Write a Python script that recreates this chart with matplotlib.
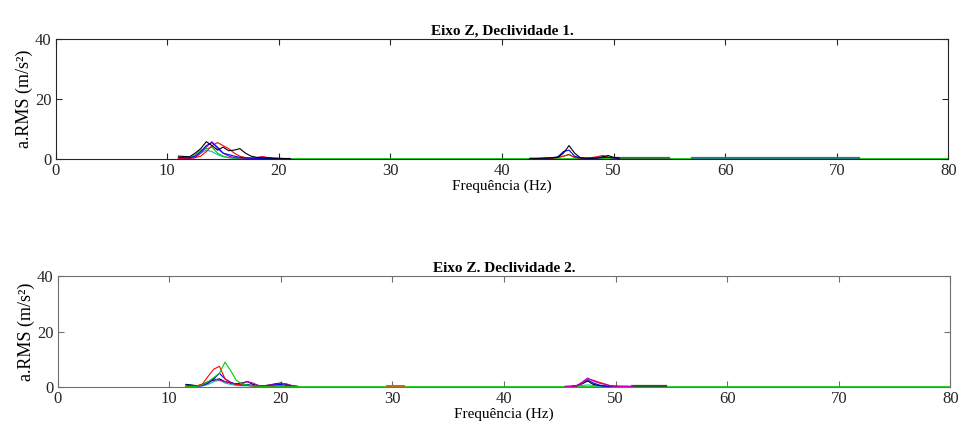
import matplotlib.pyplot as plt

plt.rcParams['font.family'] = ['Liberation Serif', 'DejaVu Serif']

# ---- Declividade 1 ----
fa1 = [11.0, 11.5, 12.0, 12.5, 13.0, 13.5, 14.0, 14.5, 15.0, 15.5, 16.0,
       16.5, 17.0, 17.5, 18.0, 18.5, 19.0, 19.5, 20.0, 20.5, 21.0]
a1_k = [1.0, 0.9, 0.8, 2.0, 3.5, 5.8, 4.5, 3.0, 4.0, 2.8, 3.0, 3.5, 2.0, 1.0, 0.6, 0.5, 0.4, 0.3, 0.3, 0.2, 0.2]
a1_b = [0.6, 0.5, 0.4, 1.0, 2.5, 4.5, 5.5, 4.0, 2.0, 1.5, 1.0, 0.6, 0.4, 0.3, 0.3, 0.2, 0.3, 0.2, 0.2, 0.2, 0.2]
a1_r = [0.3, 0.3, 0.3, 0.5, 1.0, 2.5, 4.5, 5.5, 4.5, 3.5, 2.0, 1.0, 0.5, 0.4, 0.3, 0.8, 0.5, 0.3, 0.2, 0.2, 0.2]
a1_g = [0.3, 0.3, 0.4, 1.5, 3.0, 3.5, 4.0, 2.0, 1.0, 0.5, 0.3, 0.3, 0.2, 0.2, 0.2, 0.2, 0.2, 0.2, 0.2, 0.2, 0.2]
a1_m = [0.2, 0.2, 0.3, 0.5, 2.0, 4.0, 5.8, 3.5, 2.0, 1.0, 0.5, 0.4, 0.3, 0.3, 0.5, 0.8, 0.5, 0.3, 0.2, 0.2, 0.2]
a1_c = [0.2, 0.2, 0.3, 0.8, 2.0, 3.0, 2.5, 1.5, 0.8, 0.5, 0.3, 0.2, 0.2, 0.2, 0.2, 0.2, 0.2, 0.2, 0.2, 0.2, 0.2]

fb1 = [42.5, 43.0, 43.5, 44.0, 44.5, 45.0, 45.5, 46.0, 46.5, 47.0, 47.5,
       48.0, 48.5, 49.0, 49.5, 50.0, 50.5]
b1_k = [0.2, 0.2, 0.3, 0.3, 0.4, 0.6, 2.0, 4.5, 2.0, 0.5, 0.3, 0.3, 0.4, 0.8, 1.2, 0.6, 0.3]
b1_b = [0.3, 0.3, 0.3, 0.4, 0.5, 0.8, 2.5, 3.0, 1.0, 0.4, 0.3, 0.3, 0.3, 0.5, 0.6, 0.4, 0.3]
b1_r = [0.2, 0.2, 0.2, 0.3, 0.3, 0.5, 1.0, 1.5, 0.6, 0.3, 0.3, 0.5, 0.8, 1.2, 0.7, 0.4, 0.2]
b1_g = [0.2, 0.2, 0.2, 0.3, 0.4, 0.6, 1.0, 1.6, 0.5, 0.3, 0.2, 0.3, 0.4, 0.6, 0.4, 0.3, 0.2]

fc1 = [50.0, 52.5, 55.0]
c1_dg = [0.3, 0.3, 0.3]
fd1 = [57.0, 62.0, 67.0, 72.0]
d1_tl = [0.3, 0.3, 0.3, 0.3]
fe1 = [20.0, 40.0, 60.0, 80.0]
e1_g = [0.1, 0.1, 0.1, 0.1]

# ---- Declividade 2 ----
fa2 = [11.5, 12.0, 12.5, 13.0, 13.5, 14.0, 14.5, 15.0, 15.5, 16.0, 16.5,
       17.0, 17.5, 18.0, 18.5, 19.0, 19.5, 20.0, 20.5, 21.0, 21.5]
a2_k = [1.0, 0.8, 0.5, 1.0, 2.0, 2.5, 3.0, 2.0, 1.5, 1.2, 1.5, 2.0, 1.0, 0.6, 0.5, 0.8, 1.2, 1.5, 1.0, 0.5, 0.3]
a2_b = [0.8, 0.5, 0.3, 0.6, 1.5, 3.0, 5.0, 3.0, 1.8, 1.0, 0.8, 1.0, 0.6, 0.4, 0.3, 0.5, 0.8, 1.0, 0.6, 0.3, 0.2]
a2_r = [0.3, 0.3, 0.4, 1.2, 4.0, 6.5, 7.5, 3.0, 1.5, 1.0, 0.8, 0.6, 0.4, 0.3, 0.2, 0.3, 0.4, 0.5, 0.3, 0.2, 0.2]
a2_g = [0.3, 0.3, 0.3, 0.8, 2.0, 3.5, 5.0, 9.0, 6.0, 2.5, 1.2, 0.8, 0.5, 0.3, 0.3, 0.3, 0.3, 0.4, 0.3, 0.2, 0.2]
a2_m = [0.3, 0.3, 0.3, 0.6, 1.5, 3.0, 2.5, 2.0, 1.5, 1.0, 1.2, 2.0, 1.5, 0.6, 0.5, 0.8, 1.0, 1.4, 1.2, 0.6, 0.3]
a2_c = [0.2, 0.2, 0.3, 0.5, 1.0, 2.0, 2.5, 1.5, 1.0, 0.6, 0.5, 0.5, 0.4, 0.3, 0.2, 0.3, 0.3, 0.4, 0.3, 0.2, 0.2]

fb2 = [45.5, 46.0, 46.5, 47.0, 47.5, 48.0, 48.5, 49.0, 49.5, 50.0, 50.5, 51.0, 51.5]
b2_k = [0.2, 0.3, 0.5, 1.2, 2.2, 1.0, 0.6, 0.4, 0.3, 0.3, 0.2, 0.2, 0.2]
b2_b = [0.3, 0.3, 0.6, 1.5, 2.6, 1.5, 0.8, 0.4, 0.3, 0.3, 0.3, 0.2, 0.2]
b2_r = [0.2, 0.2, 0.4, 1.5, 3.0, 2.5, 1.8, 1.2, 0.6, 0.3, 0.2, 0.2, 0.2]
b2_m = [0.2, 0.2, 0.5, 1.8, 3.3, 2.2, 1.5, 1.0, 0.5, 0.3, 0.2, 0.2, 0.2]
b2_c = [0.3, 0.3, 0.4, 0.6, 0.8, 0.6, 0.4, 0.3, 0.3, 0.3, 0.4, 0.5, 0.3]

fc2 = [51.5, 53.0, 54.5]
c2_dg = [0.4, 0.4, 0.4]
fd2 = [29.5, 30.2, 31.0]
d2_or = [0.4, 0.4, 0.4]
fe2 = [21.0, 40.0, 60.0, 80.0]
e2_g = [0.1, 0.1, 0.1, 0.1]

xticks = [0, 10, 20, 30, 40, 50, 60, 70, 80]
yticks = [0, 20, 40]

fig = plt.figure(figsize=(9.6, 4.36), dpi=100)
ax1 = fig.add_axes([0.058, 0.635, 0.930, 0.276])
ax2 = fig.add_axes([0.060, 0.112, 0.930, 0.255])

lw = 0.8
ax1.plot(fe1, e1_g, color='#00cc00', lw=1.2)
ax1.plot(fc1, c1_dg, color='#2e7d32', lw=1.6)
ax1.plot(fd1, d1_tl, color='#1f7f7f', lw=1.6)
for y, c in [(a1_c, 'c'), (a1_g, '#00cc00'), (a1_m, 'm'), (a1_r, 'r'), (a1_b, 'b'), (a1_k, 'k')]:
    ax1.plot(fa1, y, color=c, lw=lw)
for y, c in [(b1_g, '#00cc00'), (b1_r, 'r'), (b1_b, 'b'), (b1_k, 'k')]:
    ax1.plot(fb1, y, color=c, lw=lw)

ax2.plot(fe2, e2_g, color='#00cc00', lw=1.2)
ax2.plot(fc2, c2_dg, color='#1b5e20', lw=1.6)
ax2.plot(fd2, d2_or, color='#c07000', lw=1.4)
for y, c in [(a2_c, 'c'), (a2_k, 'k'), (a2_m, 'm'), (a2_b, 'b'), (a2_r, 'r'), (a2_g, '#00cc00')]:
    ax2.plot(fa2, y, color=c, lw=lw)
for y, c in [(b2_c, 'c'), (b2_k, 'k'), (b2_b, 'b'), (b2_r, 'r'), (b2_m, 'm')]:
    ax2.plot(fb2, y, color=c, lw=lw)

titles = ['Eixo Z, Declividade 1.', 'Eixo Z. Declividade 2.']
spine_cols = ['#262626', '#707070']
for ax, t, sc in zip([ax1, ax2], titles, spine_cols):
    ax.set_xlim(0, 80)
    ax.set_ylim(0, 40)
    ax.set_xticks(xticks)
    ax.set_yticks(yticks)
    ax.tick_params(direction='in', top=True, right=True, length=4,
                   labelsize=12, colors=sc, labelcolor='#262626', width=0.8, pad=3)
    for s in ax.spines.values():
        s.set_color(sc)
        s.set_linewidth(0.8)
    ax.set_title(t, fontsize=11, fontweight='bold', pad=3)
    ax.set_xlabel('Frequência (Hz)', fontsize=11, labelpad=0)
    ax.set_ylabel('a.RMS (m/s²)', fontsize=13, labelpad=1)

fig.savefig('out.png', dpi=100)
